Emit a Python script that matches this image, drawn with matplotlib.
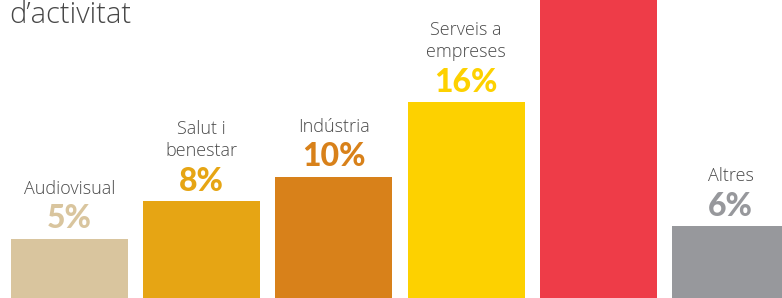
import matplotlib
matplotlib.use("Agg")
import matplotlib.pyplot as plt

# ---- data ----
categories = ["Audiovisual", "Salut i\nbenestar", "Indústria", "Serveis a\nempreses", "", "Altres"]
values = [5, 8, 10, 16, 55, 6]
pct_labels = ["5%", "8%", "10%", "16%", "", "6%"]
colors = ["#D9C59E", "#E6A514", "#D8811A", "#FDD100", "#EE3C48", "#97989C"]
title_text = "d\u2019activitat"

W, H = 782, 298
fig = plt.figure(figsize=(W / 100, H / 100), dpi=100)
ax = fig.add_axes([0, 0, 1, 1])
ax.set_axis_off()

xs = list(range(len(values)))
ax.bar(xs, values, width=0.885, color=colors, linewidth=0)
ax.set_xlim(-0.5257, 5.3896)
ax.set_ylim(0.22, 24.23)

for x, v, c, cat, pl in zip(xs, values, colors, categories, pct_labels):
    if pl:
        ax.annotate(pl, (x, v), xytext=(0, 7.5), textcoords="offset points",
                    ha="center", va="baseline", color=c, fontsize=23,
                    family="Lato", fontweight="black")
    if cat:
        ax.annotate(cat, (x, v), xytext=(0, 29.5), textcoords="offset points",
                    ha="center", va="bottom", color="#4a4a4a", fontsize=13,
                    family="Open Sans", fontweight="light", linespacing=1.3,
                    multialignment="center")

fig.text(9 / W, 1 - 23 / H, title_text, ha="left", va="baseline",
         fontsize=21, color="#474747", family="Open Sans", fontweight="light")

fig.savefig("out.png", dpi=100)
